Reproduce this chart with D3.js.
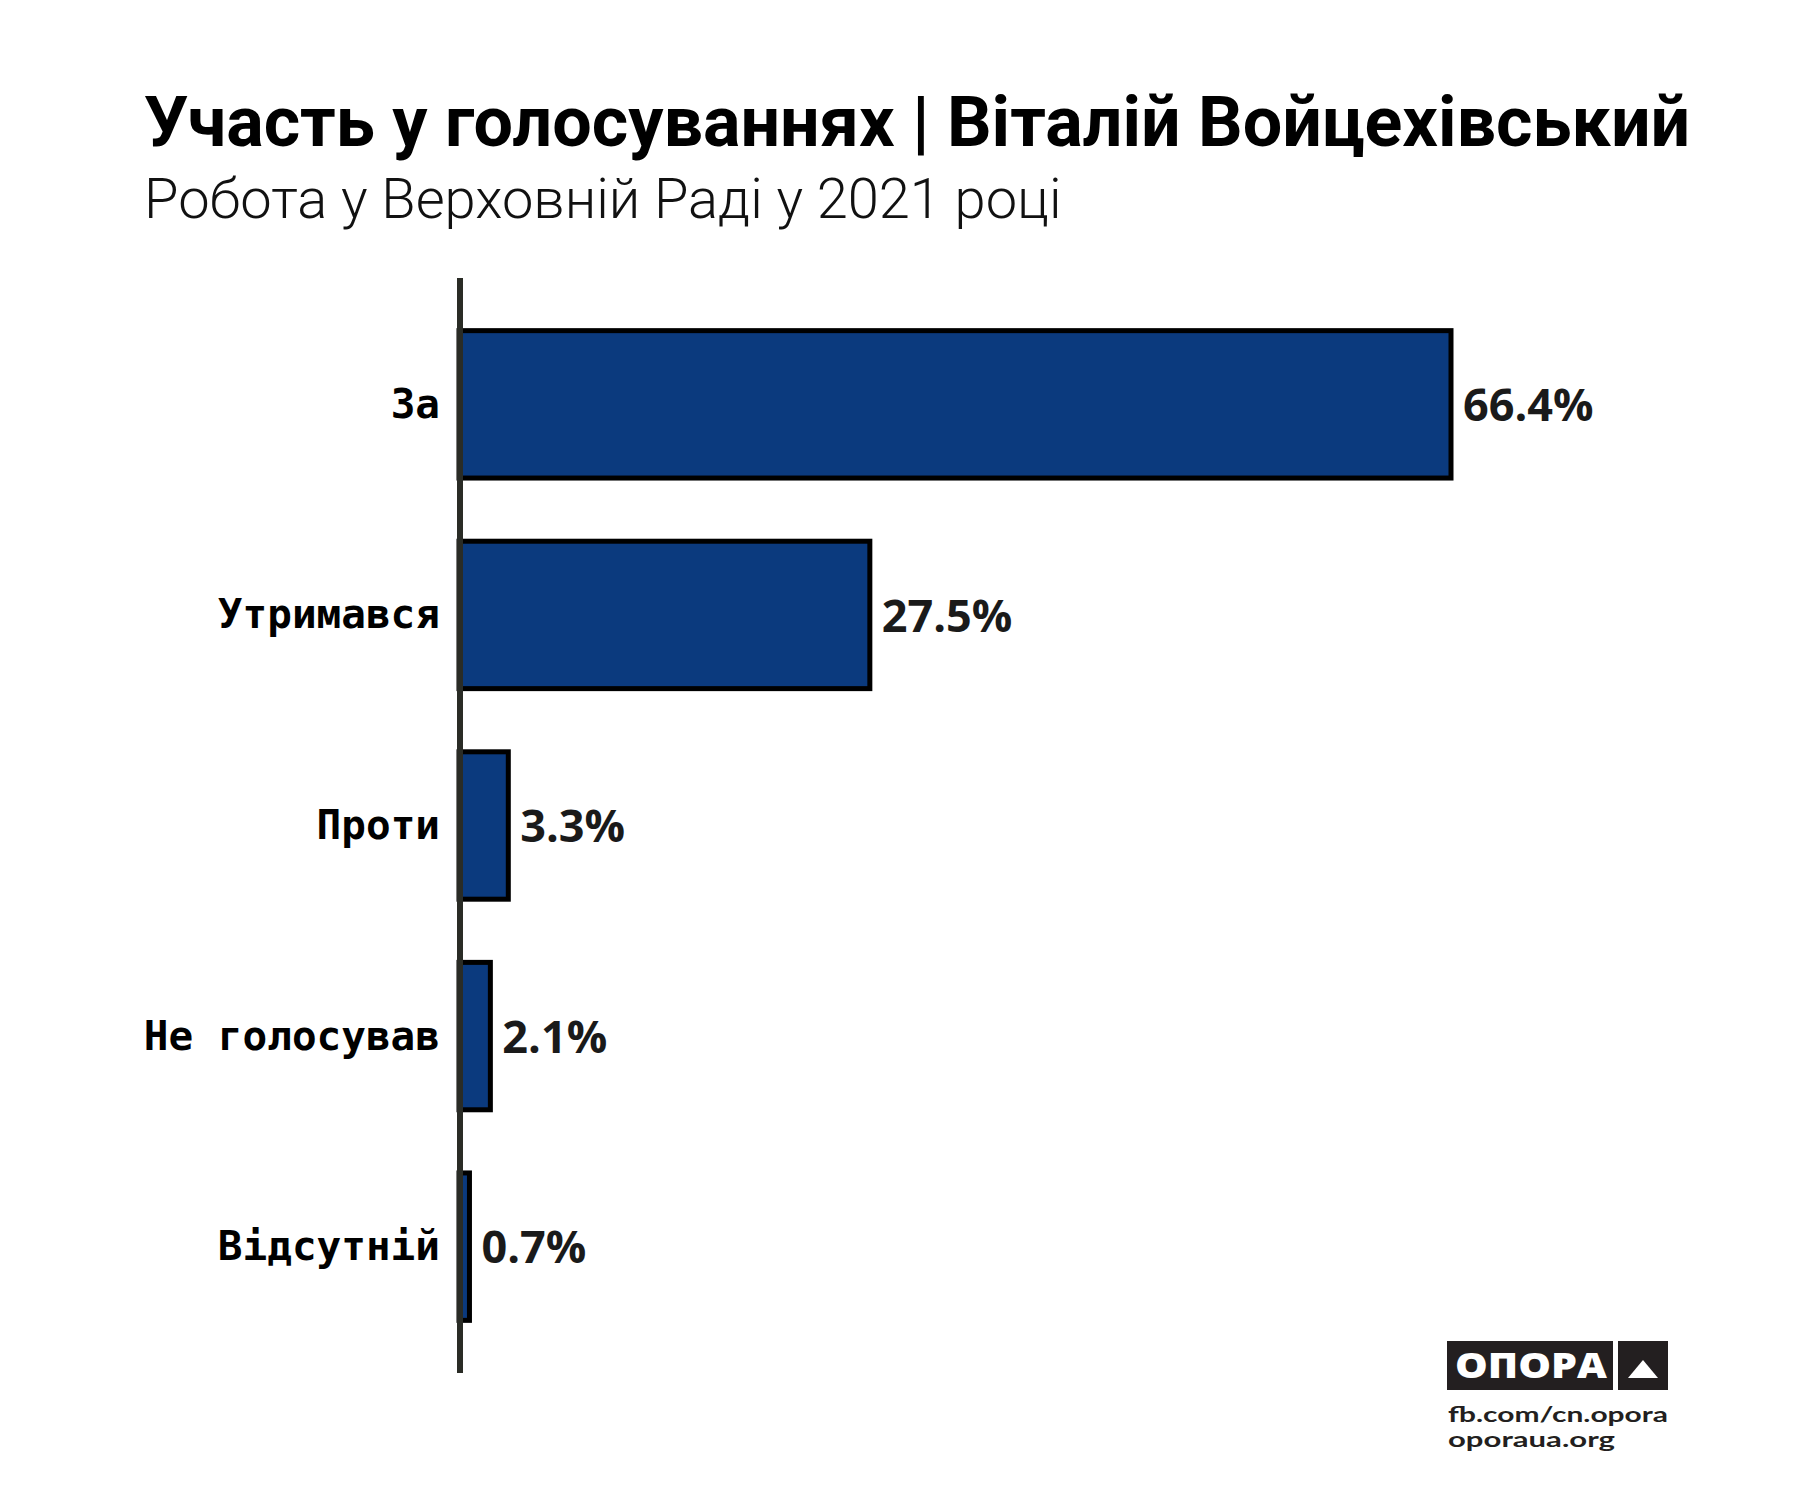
<!DOCTYPE html>
<html>
<head>
<meta charset="utf-8">
<script src="https://cdn.jsdelivr.net/npm/d3@7"></script>
<style>
  body { margin: 0; background: #fff; }
</style>
</head>
<body>
<script>
// data
var categories = ["За", "Утримався", "Проти", "Не голосував", "Відсутній"];
var values = [66.4, 27.5, 3.3, 2.1, 0.7];
var title = "Участь у голосуваннях | Віталій Войцехівський";
var subtitle = "Робота у Верховній Раді у 2021 році";
var footerLines = ["fb.com/cn.opora", "oporaua.org"];

var W = 1800, H = 1500;

var svg = d3.select("body").append("svg")
  .attr("width", W)
  .attr("height", H);

svg.append("rect").attr("width", W).attr("height", H).attr("fill", "#fff");

// title + subtitle
svg.append("text")
  .attr("x", 144).attr("y", 146)
  .style("font-family", "Roboto")
  .style("font-weight", 700)
  .style("font-size", "70px")
  .attr("fill", "#000")
  .text(title);

svg.append("text")
  .attr("x", 144).attr("y", 218)
  .style("font-family", "Roboto")
  .style("font-weight", 300)
  .style("font-size", "56px")
  .attr("fill", "#111")
  .text(subtitle);

// scales
var x = d3.scaleLinear()
  .domain([0, d3.max(values)])
  .range([459, 1451]);

var y = d3.scaleBand()
  .domain(categories)
  .range([278, 1373])
  .paddingInner(0.3)
  .paddingOuter(0.25);

var rows = categories.map(function(c, i) { return {cat: c, val: values[i]}; });

// bars
svg.selectAll(".bar")
  .data(rows)
  .enter()
  .append("rect")
    .attr("class", "bar")
    .attr("x", x(0))
    .attr("y", function(d) { return y(d.cat); })
    .attr("width", function(d) { return x(d.val) - x(0); })
    .attr("height", y.bandwidth())
    .attr("fill", "#0b3a7e")
    .attr("stroke", "#000")
    .attr("stroke-width", 5);

// value labels
svg.selectAll(".val")
  .data(rows)
  .enter()
  .append("text")
    .attr("class", "val")
    .attr("x", function(d) { return x(d.val) + 12; })
    .attr("y", function(d) { return y(d.cat) + y.bandwidth() / 2; })
    .attr("dy", "0.37em")
    .style("font-family", "'Open Sans'")
    .style("font-weight", 700)
    .style("font-size", "45px")
    .attr("fill", "#1a1a1a")
    .text(function(d) { return d3.format(".1f")(d.val) + "%"; });

// category axis
var axis = svg.append("g")
  .attr("transform", "translate(460,0)")
  .call(d3.axisLeft(y).tickSize(0).tickPadding(20));

axis.select(".domain")
  .attr("d", "M0," + 278 + "V" + 1373)
  .attr("stroke", "#2a2c26")
  .attr("stroke-width", 6);

axis.selectAll(".tick text")
  .attr("dy", "0.33em")
  .style("font-family", "'DejaVu Sans Mono'")
  .style("font-weight", 700)
  .style("font-size", "41px")
  .attr("fill", "#000");

// logo
var logo = svg.append("g");
logo.append("rect")
  .attr("x", 1447).attr("y", 1341).attr("width", 166).attr("height", 49)
  .attr("fill", "#231f20");
logo.append("rect")
  .attr("x", 1618).attr("y", 1341).attr("width", 50).attr("height", 49)
  .attr("fill", "#231f20");
logo.append("text")
  .attr("x", 1455).attr("y", 1378)
  .attr("textLength", 152).attr("lengthAdjust", "spacingAndGlyphs")
  .style("font-family", "'Open Sans'")
  .style("font-weight", 800)
  .style("font-size", "35px")
  .attr("fill", "#fff")
  .text("ОПОРА");
logo.append("path")
  .attr("d", "M1643,1360L1658,1378L1628,1378Z")
  .attr("fill", "#fff");

var footLen = [220, 167];
logo.selectAll(".foot")
  .data(footerLines)
  .enter()
  .append("text")
    .attr("class", "foot")
    .attr("x", 1448)
    .attr("y", function(d, i) { return 1422 + i * 25; })
    .attr("textLength", function(d, i) { return footLen[i]; })
    .attr("lengthAdjust", "spacingAndGlyphs")
    .style("font-family", "Lato")
    .style("font-weight", 700)
    .style("font-size", "21px")
    .attr("fill", "#231f20")
    .text(function(d) { return d; });
</script>
</body>
</html>
